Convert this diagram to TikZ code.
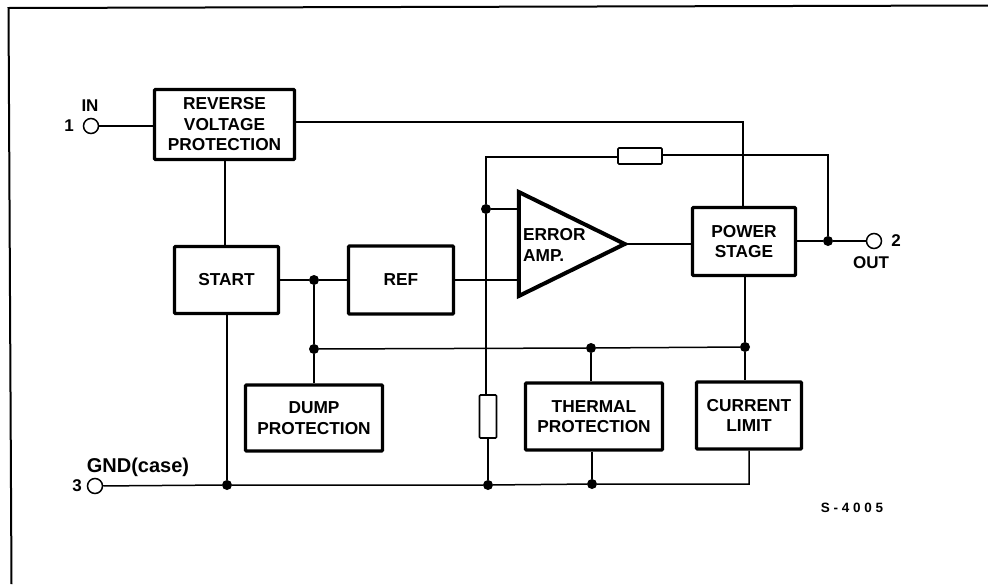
\documentclass[tikz,border=0pt]{standalone}
\usepackage{fontspec}
\setmainfont{Liberation Sans}
\newfontfamily\spacedfont[LetterSpace=28]{Liberation Sans}
\usetikzlibrary{shapes.geometric}
\tikzset{
    every node/.style={align=center,},
    block/.style={draw,rectangle,rounded corners=1pt,line width=3.4pt,inner sep=0pt,font=\fontsize{17.3}{20.5}\selectfont\bfseries,},
    resistor/.style={draw,rectangle,rounded corners=1pt,line width=1.6pt,fill=white,inner sep=0pt,},
    terminal/.style={draw,circle,line width=1.5pt,fill=white,inner sep=0pt,minimum size=15pt,},
    junction/.style={fill,circle,inner sep=0pt,minimum size=10pt,},
    amplifier/.style={draw,isosceles triangle,isosceles triangle stretches,line width=4pt,inner sep=0pt,},
    pinlabel/.style={inner sep=0pt,font=\fontsize{17}{19}\selectfont\bfseries,},
    wire/.style={line width=1.5pt,},
}

\begin{document}
\begin{tikzpicture}[x=1pt,y=-1pt]
                \useasboundingbox (0,0) rectangle (988,584);

                \coordinate (frame_bottom) at (11.5,584);
                \coordinate (frame_corner) at (8.5,8);
                \coordinate (frame_right) at (988,5.5);
                \draw[line width=2pt] (frame_bottom) -- (frame_corner) -- (frame_right);

                \node[block,minimum width=140pt,minimum height=70pt] (reverse) at (224.5,124.5) {REVERSE\\VOLTAGE\\PROTECTION};
                \node[block,minimum width=104pt,minimum height=67pt] (start) at (226.5,280) {START};
                \node[block,minimum width=105pt,minimum height=68pt] (ref) at (401,280) {REF};
                \node[block,minimum width=103pt,minimum height=68pt] (power) at (744,241.5) {POWER\\STAGE};
                \node[block,minimum width=137pt,minimum height=66pt] (dump) at (314,418) {DUMP\\PROTECTION};
                \node[block,minimum width=137pt,minimum height=67pt] (thermal) at (594,416.5) {THERMAL\\PROTECTION};
                \node[block,minimum width=105pt,minimum height=67pt] (current) at (749,415.5) {CURRENT\\LIMIT};

                \node[amplifier,minimum width=104pt,minimum height=106pt,anchor=apex] (amp) at (630,244) {};
                \node[inner sep=0pt,anchor=west,align=left,font=\fontsize{17.3}{20.5}\selectfont\bfseries] (amp_text) at (523,245) {ERROR\\AMP.};
                \coordinate (amp_upper) at (520,209);
                \coordinate (amp_lower) at (520,280);
                \coordinate (amp_out) at (622,244);

                \node[resistor,minimum width=44pt,minimum height=16pt] (feedback_res) at (640,156) {};
                \node[resistor,minimum width=17pt,minimum height=43pt] (divider_res) at (488,416.5) {};

                \node[terminal] (pin_in) at (91,126) {};
                \node[terminal] (pin_out) at (874,241) {};
                \node[terminal] (pin_gnd) at (95,486) {};

                \node[junction] (fb_dot) at (486,209) {};
                \node[junction] (out_dot) at (828,241) {};
                \node[junction] (start_dot) at (314,280) {};
                \node[junction] (sense_dot) at (314,349) {};
                \node[junction] (thermal_dot) at (591,348) {};
                \node[junction] (limit_dot) at (745,347) {};
                \node[junction] (gnd_start) at (227,485) {};
                \node[junction] (gnd_res) at (488,485) {};
                \node[junction] (gnd_thermal) at (592,484) {};

                \coordinate (supply_corner) at (743,122);
                \coordinate (start_feed) at (225.2,200);
                \coordinate (fb_left) at (486,157);
                \coordinate (fb_right) at (828,155);
                \coordinate (gnd_end) at (749,484);

                \draw[wire] (pin_in) -- (pin_in -| reverse.west);
                \draw[wire] (reverse.east |- supply_corner) -- (supply_corner) -- (supply_corner |- power.north);
                \draw[wire] (reverse.south -| start_feed) -- (start.north -| start_feed);
                \draw[wire] (start.east) -- (start_dot) -- (ref.west);
                \draw[wire] (ref.east) -- (amp_lower);
                \draw[wire] (start_dot) -- (sense_dot) -- (dump.north -| sense_dot);
                \draw[wire] (sense_dot) -- (thermal_dot) -- (limit_dot);
                \draw[wire] (thermal_dot) -- (thermal_dot |- thermal.north);
                \draw[wire] (limit_dot) -- (limit_dot |- current.north);
                \draw[wire] (power.south -| limit_dot) -- (limit_dot);
                \draw[wire] (amp_out) -- (amp_out -| power.west);
                \draw[wire] (power.east |- out_dot) -- (out_dot) -- (pin_out);
                \draw[wire] (fb_dot) -- (amp_upper);
                \draw[wire] (fb_dot) -- (fb_left) -- (feedback_res.west |- fb_left);
                \draw[wire] (feedback_res.east |- fb_right) -- (fb_right) -- (out_dot);
                \draw[wire] (fb_dot) -- (fb_dot |- divider_res.north);
                \draw[wire] (divider_res) -- (gnd_res);
                \draw[wire] (start.south -| gnd_start) -- (gnd_start);
                \draw[wire] (pin_gnd) -- (gnd_start) -- (gnd_res) -- (gnd_thermal) -- (gnd_end) -- (gnd_end |- current.south);
                \draw[wire] (thermal.south -| gnd_thermal) -- (gnd_thermal);

                \node[pinlabel] (in_label) at (90,106) {IN};
                \node[pinlabel] (in_num) at (69,126) {1};
                \node[pinlabel] (out_label) at (871,263) {OUT};
                \node[pinlabel] (out_num) at (896,241) {2};
                \node[pinlabel,font=\fontsize{20}{22}\selectfont\bfseries] (gnd_label) at (138,467) {GND(case)};
                \node[pinlabel] (gnd_num) at (77,486) {3};
                \node[inner sep=0pt,font=\fontsize{13.5}{15}\spacedfont\bfseries] (code_label) at (852,508) {S-4005};
            \end{tikzpicture}
\end{document}
